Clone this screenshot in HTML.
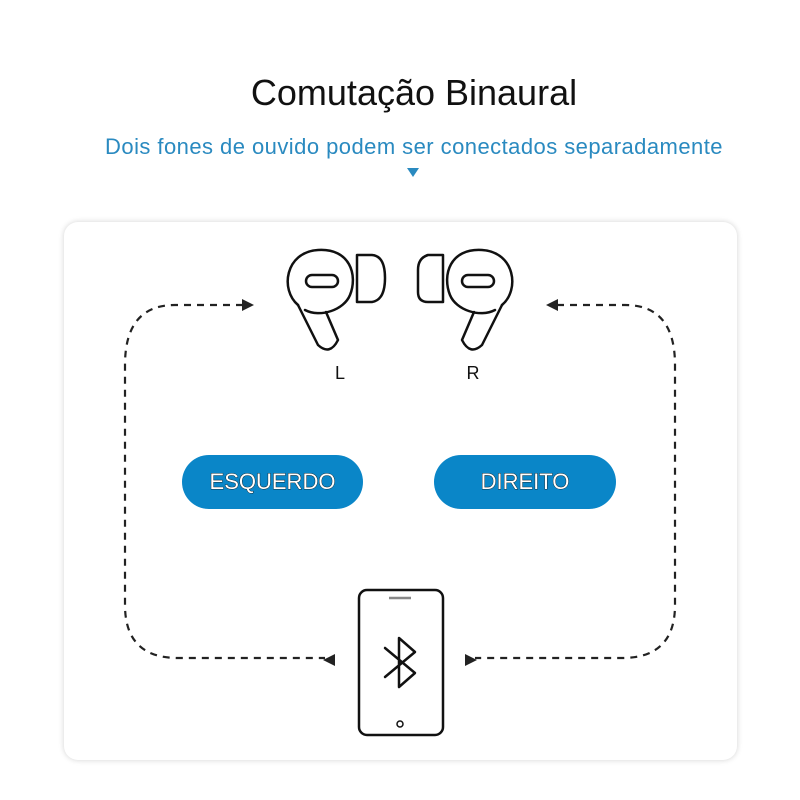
<!DOCTYPE html>
<html><head><meta charset="utf-8"><style>
body{margin:0;width:800px;height:800px;background:#fff;position:relative;overflow:hidden;font-family:"Liberation Sans",sans-serif}
.t{position:absolute;left:0;width:828px;text-align:center}
.card{position:absolute;left:64px;top:222px;width:673px;height:538px;border-radius:14px;background:#fff;box-shadow:0 0 6px rgba(0,0,0,.18)}
.btn{position:absolute;top:455px;height:54px;border-radius:27px;background:#0a86c8;color:#fff;font-size:22px;line-height:54px;text-align:center;-webkit-text-stroke:0.8px #111;paint-order:stroke fill}
</style></head><body>
<div class="t" style="top:72px;font-size:36px;color:#111">Comutação Binaural</div>
<div class="t" style="top:134px;font-size:22px;color:#2a8ac0;letter-spacing:0.45px">Dois fones de ouvido podem ser conectados separadamente</div>
<div class="card"></div>
<svg width="800" height="800" style="position:absolute;left:0;top:0">
<polygon points="407,168 419,168 413,177" fill="#2a8ac0"/>
<g fill="none" stroke="#222" stroke-width="2.2" stroke-dasharray="7,6">
<path d="M243,305 H175 Q125,305 125,365 V605 Q125,658 178,658 H325"/>
<path d="M557,305 H625 Q675,305 675,365 V605 Q675,658 622,658 H475"/>
</g>
<g fill="#222">
<polygon points="254,305 242,299 242,311"/>
<polygon points="546,305 558,299 558,311"/>
<polygon points="323,660 335,654 335,666"/>
<polygon points="477,660 465,654 465,666"/>
</g>
<g fill="none" stroke="#111" stroke-width="2.5" stroke-linejoin="round" stroke-linecap="round">
<path d="M298,305 C280,290 285,252 318,250 C350,248 358,275 350,295 C344,310 320,318 305,310"/>
<path d="M298,305 L318,345 Q330,356 338,340 L326,312"/>
<rect x="306" y="275" width="32" height="12" rx="6"/>
<path d="M357,255 H372 Q385,256 385,278 Q385,300 372,302 H357 Z"/>
<path d="M502,305 C520,290 515,252 482,250 C450,248 442,275 450,295 C456,310 480,318 495,310"/>
<path d="M502,305 L482,345 Q470,356 462,340 L474,312"/>
<rect x="462" y="275" width="32" height="12" rx="6"/>
<path d="M443,255 H428 Q418,258 418,270 V292 Q418,302 428,302 H443 Z"/>
<rect x="359" y="590" width="84" height="145" rx="8"/>
<path d="M385,648 L415,673 L399,687 V638 L415,652 L385,677"/>
<circle cx="400" cy="724" r="3" stroke-width="1.5"/>
</g>
<line x1="389" y1="598" x2="411" y2="598" stroke="#888" stroke-width="2.5"/>
<text x="340" y="379" font-size="18" text-anchor="middle" fill="#111" font-family="Liberation Sans">L</text>
<text x="473" y="379" font-size="18" text-anchor="middle" fill="#111" font-family="Liberation Sans">R</text>
</svg>
<div class="btn" style="left:182px;width:181px">ESQUERDO</div>
<div class="btn" style="left:434px;width:182px">DIREITO</div>
</body></html>
